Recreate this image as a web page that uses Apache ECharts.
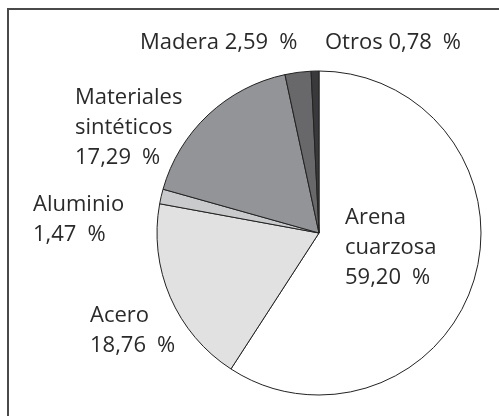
<!DOCTYPE html>
<html lang="es">
<head>
<meta charset="UTF-8">
<title>Composición</title>
<script src="https://cdn.jsdelivr.net/npm/echarts@6/dist/echarts.min.js"></script>
<style>
  html, body { margin: 0; padding: 0; background: #fff; }
  #chart { width: 499px; height: 416px; }
</style>
</head>
<body>
<div id="chart"></div>
<script>
// datos del gráfico (sentido horario desde arriba)
var names = ['Arena cuarzosa', 'Acero', 'Aluminio', 'Materiales sintéticos', 'Madera', 'Otros'];
var labelText = ['Arena\ncuarzosa\n', 'Acero\n', 'Aluminio\n', 'Materiales\nsintéticos\n', 'Madera ', 'Otros '];
var values = [59.20, 18.76, 1.47, 17.29, 2.59, 0.78];
var colors = ['#ffffff', '#e1e1e2', '#c9cacc', '#939497', '#68686a', '#39393b'];

// dónde va cada etiqueta (esquina superior izquierda)
var labelPos = [[345, 203], [90, 301], [33, 190], [75, 83], [140, 28], [325, 28]];

var chart = echarts.init(document.getElementById('chart'));

var pieData = names.map(function (n, i) {
  return { name: n, value: values[i], itemStyle: { color: colors[i] } };
});

chart.setOption({
  animation: false,
  graphic: [{
    type: 'rect',
    shape: { x: 8, y: 9, width: 600, height: 600 },
    style: { fill: 'none', stroke: '#4a4a4a', lineWidth: 2 },
    silent: true
  }],
  series: [{
    type: 'pie',
    center: [319, 233],
    radius: 162,
    startAngle: 90,
    clockwise: true,
    avoidLabelOverlap: false,
    itemStyle: { borderColor: '#222', borderWidth: 1 },
    label: {
      show: true,
      fontFamily: 'Open Sans',
      fontSize: 22,
      lineHeight: 30,
      color: '#2a2a2a',
      formatter: function (p) {
        return labelText[p.dataIndex] + p.value.toFixed(2).replace('.', ',') + '\u2002%';
      }
    },
    labelLine: { show: false },
    labelLayout: function (p) {
      var pos = labelPos[p.dataIndex];
      return { x: pos[0], y: pos[1], align: 'left', verticalAlign: 'top' };
    },
    emphasis: { disabled: true },
    data: pieData
  }]
});
</script>
</body>
</html>
